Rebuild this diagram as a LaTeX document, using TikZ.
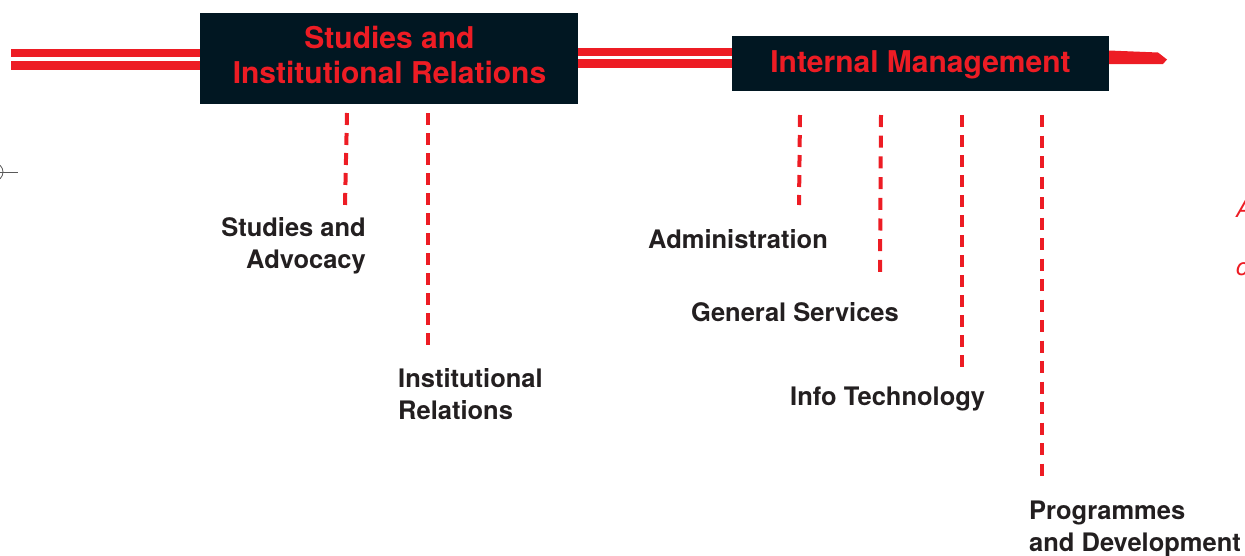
\documentclass[tikz,border=0pt]{standalone}
\usepackage{fontspec}
\setmainfont{TeX Gyre Heros}
\definecolor{brandred}{HTML}{ED1C24}
\definecolor{navy}{HTML}{011722}
\definecolor{ink}{HTML}{231F20}
\begin{document}
\begin{tikzpicture}[x=1pt,y=-1pt,
  bar/.style={fill=brandred,draw=none},
  titlebox/.style={fill=navy,draw=none,inner sep=0pt},
  titletext/.style={text=brandred,font=\bfseries\fontsize{30}{35}\selectfont,inner sep=0pt,align=center},
  unitlabel/.style={text=ink,font=\bfseries\fontsize{25.5}{32}\selectfont,inner sep=0pt},
  link/.style={draw=brandred,line width=4pt,dash pattern=on 12pt off 8pt},
  edgefrag/.style={text=brandred,font=\itshape\fontsize{24}{28}\selectfont,inner sep=0pt}]
\useasboundingbox (0,0) rectangle (1245,555);
% red bars
\fill[bar] (11,49) rectangle (200,57);
\fill[bar] (11,61) rectangle (200,70);
\fill[bar] (578,48) rectangle (732,56);
\fill[bar] (578,59) rectangle (732,67.5);
\fill[bar] (1109,50.5) -- (1158,52.5) -- (1167,59.5) -- (1163,64) -- (1109,64) -- cycle;
% boxes
\node[titlebox,minimum width=378pt,minimum height=91pt] (box1) at (389,58.5) {};
\node[titletext] (box1text) at (389.5,54.5) {Studies and\\Institutional Relations};
\node[titlebox,minimum width=377pt,minimum height=55pt] (box2) at (920.5,63.5) {};
\node[titletext,anchor=base] (box2text) at (920.5,72.5) {Internal Management};
% labels
\node[unitlabel,align=right,anchor=north east] (advocacy) at (366,217) {Studies and\\Advocacy};
\node[unitlabel,align=left,anchor=north west] (instrel) at (398,368) {Institutional\\Relations};
\node[unitlabel,anchor=north west] (admin) at (648,229.5) {Administration};
\node[unitlabel,anchor=north west] (gensrv) at (691,302) {General Services};
\node[unitlabel,anchor=north west] (infotech) at (790,387) {Info Technology};
\node[unitlabel,align=left,anchor=north west] (progdev) at (1029,501) {Programmes\\and Development};
% connector end points
\coordinate (c1a) at (347,113); \coordinate (c1b) at (345,205);
\coordinate (c2a) at (428,113); \coordinate (c2b) at (428,345);
\coordinate (c3a) at (800,115); \coordinate (c3b) at (799,205);
\coordinate (c4a) at (881,115); \coordinate (c4b) at (880,272);
\coordinate (c5a) at (962,115); \coordinate (c5b) at (962,368);
\coordinate (c6a) at (1042,115); \coordinate (c6b) at (1042,475.5);
\draw[link] (c1a) -- (c1b);
\draw[link] (c2a) -- (c2b);
\draw[link] (c3a) -- (c3b);
\draw[link,dash pattern=on 12pt off 8.7pt] (c4a) -- (c4b);
\draw[link] (c5a) -- (c5b);
\draw[link,dash pattern=on 12pt off 8.5pt] (c6a) -- (c6b);
% crop mark at left edge
\coordinate (mark) at (-6,172);
\draw[gray!70!black,line width=0.8pt] (mark) circle (9);
\draw[gray!70!black,line width=0.8pt] (mark) -- (18,172);
% text fragments cut off at right edge
\node[edgefrag,anchor=north west] (fragA) at (1236,200) {A};
\node[edgefrag,anchor=base west] (fragc) at (1236,275) {c};
\end{tikzpicture}
\end{document}
